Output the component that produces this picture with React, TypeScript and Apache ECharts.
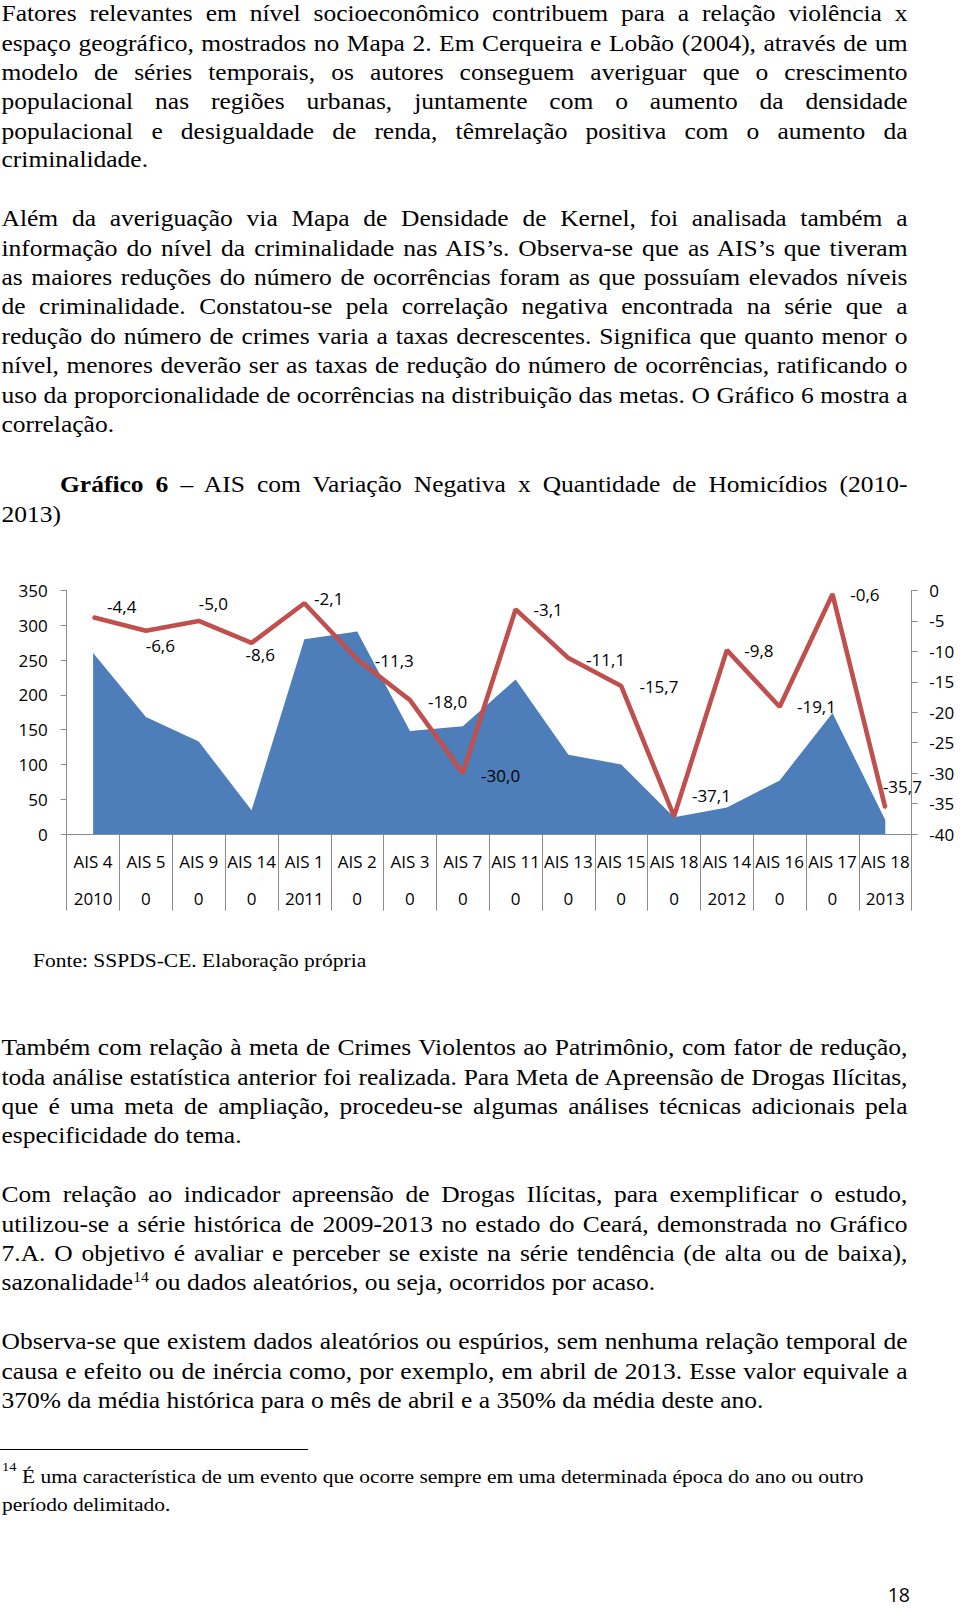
import React, { useEffect, useRef } from "react";
import * as echarts from "echarts";

// ---------- data ----------
const categories = [
  "AIS 4", "AIS 5", "AIS 9", "AIS 14", "AIS 1", "AIS 2", "AIS 3", "AIS 7",
  "AIS 11", "AIS 13", "AIS 15", "AIS 18", "AIS 14", "AIS 16", "AIS 17", "AIS 18",
];
const yearRow = ["2010", "0", "0", "0", "2011", "0", "0", "0", "0", "0", "0", "0", "2012", "0", "0", "2013"];
const homicides = [260, 168, 133, 34, 280, 291, 148, 155, 222, 114, 100, 24, 38, 77, 174, 20];
const variation = [-4.4, -6.6, -5.0, -8.6, -2.1, -11.3, -18.0, -30.0, -3.1, -11.1, -15.7, -37.1, -9.8, -19.1, -0.6, -35.7];
const leftAxis = { min: 0, max: 350, step: 50 };
const rightAxis = { min: -40, max: 0, step: 5 };

// label placement (style only): centre offset of each data label from its point
const labelOffsets = [
  [28.6, -10.6], [14.4, 15.3], [14.6, -17.6], [8.7, 12.1], [24.4, -5], [37.1, 1.4], [37.6, 1.6], [37.8, 1.9],
  [32.5, 0.6], [37.2, 1.2], [37.7, 0.6], [37.4, -21.3], [32, 0.5], [36.8, -0.1], [32.4, 0.8], [17.1, -21.8],
];

// ---------- text ----------
const p1 = [
  "Fatores relevantes em nível socioeconômico contribuem para a relação violência x",
  "espaço geográfico, mostrados no Mapa 2. Em Cerqueira e Lobão (2004), através de um",
  "modelo de séries temporais, os autores conseguem averiguar que o crescimento",
  "populacional nas regiões urbanas, juntamente com o aumento da densidade",
  "populacional e desigualdade de renda, têmrelação positiva com o aumento da",
  "criminalidade.",
];
const p2 = [
  "Além da averiguação via Mapa de Densidade de Kernel, foi analisada também a",
  "informação do nível da criminalidade nas AIS’s. Observa-se que as AIS’s que tiveram",
  "as maiores reduções do número de ocorrências foram as que possuíam elevados níveis",
  "de criminalidade. Constatou-se pela correlação negativa encontrada na série que a",
  "redução do número de crimes varia a taxas decrescentes. Significa que quanto menor o",
  "nível, menores deverão ser as taxas de redução do número de ocorrências, ratificando o",
  "uso da proporcionalidade de ocorrências na distribuição das metas. O Gráfico 6 mostra a",
  "correlação.",
];
const p3 = [
  "Também com relação à meta de Crimes Violentos ao Patrimônio, com fator de redução,",
  "toda análise estatística anterior foi realizada. Para Meta de Apreensão de Drogas Ilícitas,",
  "que é uma meta de ampliação, procedeu-se algumas análises técnicas adicionais pela",
  "especificidade do tema.",
];
const p4 = [
  "Com relação ao indicador apreensão de Drogas Ilícitas, para exemplificar o estudo,",
  "utilizou-se a série histórica de 2009-2013 no estado do Ceará, demonstrada no Gráfico",
  "7.A. O objetivo é avaliar e perceber se existe na série tendência (de alta ou de baixa),",
];
const p5 = [
  "Observa-se que existem dados aleatórios ou espúrios, sem nenhuma relação temporal de",
  "causa e efeito ou de inércia como, por exemplo, em abril de 2013. Esse valor equivale a",
  "370% da média histórica para o mês de abril e a 350% da média deste ano.",
];

const SERIF = '"Liberation Serif", "Times New Roman", serif';
const SANS = '"Open Sans", "Liberation Sans", sans-serif';
const SY = 0.92;
const BODY = 25.5;

function block(firstBaseline: number, step: number, fontSize: number, left = 1.5, width = 906): React.CSSProperties {
  const lh = step / SY;
  const b = (lh - 1.107 * fontSize) / 2 + 0.891 * fontSize;
  return {
    position: "absolute",
    top: firstBaseline - SY * b,
    left,
    width,
    fontFamily: SERIF,
    fontSize,
    lineHeight: lh + "px",
    transform: `scaleY(${SY})`,
    transformOrigin: "0 0",
    color: "#000",
    whiteSpace: "nowrap",
  };
}

const just: React.CSSProperties = { textAlign: "justify", textAlignLast: "justify" };
const last: React.CSSProperties = { textAlign: "left", textAlignLast: "left" };

function Para({ lines, style }: { lines: string[]; style: React.CSSProperties }) {
  return (
    <div style={style}>
      {lines.map((l, i) => (
        <div key={i} style={i === lines.length - 1 ? last : just}>
          {l}
        </div>
      ))}
    </div>
  );
}

function Chart() {
  const ref = useRef<HTMLDivElement>(null);
  useEffect(() => {
    if (!ref.current) return;
    const chart = echarts.init(ref.current, null, { renderer: "svg" });
    const axisColor = "#8c8c8c";
    chart.setOption({
      animation: false,
      textStyle: { fontFamily: SANS },
      grid: { left: 66.7, top: 30.5, width: 845, height: 243.5, outerBoundsMode: "none", containLabel: false },
      xAxis: {
        type: "category",
        data: categories,
        boundaryGap: true,
        axisLine: { show: true, lineStyle: { color: axisColor, width: 1 } },
        axisTick: { show: true, interval: 0, length: 76.7, lineStyle: { color: axisColor, width: 1 } },
        axisLabel: {
          interval: 0,
          margin: 9.4,
          fontSize: 17,
          lineHeight: 36.6,
          color: "#000",
          fontFamily: SANS,
          formatter: (v: string, i: number) => `${v}\n${yearRow[i]}`,
        },
        splitLine: { show: false },
      },
      yAxis: [
        {
          type: "value",
          position: "left",
          min: leftAxis.min,
          max: leftAxis.max,
          interval: leftAxis.step,
          axisLine: { show: true, lineStyle: { color: axisColor, width: 1 } },
          axisTick: { show: true, length: 6, lineStyle: { color: axisColor } },
          axisLabel: { margin: 19, fontSize: 17, color: "#000", fontFamily: SANS },
          splitLine: { show: false },
        },
        {
          type: "value",
          position: "right",
          min: rightAxis.min,
          max: rightAxis.max,
          interval: rightAxis.step,
          axisLine: { show: true, lineStyle: { color: axisColor, width: 1 } },
          axisTick: { show: true, length: 6, lineStyle: { color: axisColor } },
          axisLabel: { margin: 17.5, fontSize: 17, color: "#000", fontFamily: SANS },
          splitLine: { show: false },
        },
      ],
      series: [
        {
          name: "Homicídios",
          type: "line",
          yAxisIndex: 0,
          data: homicides,
          symbol: "none",
          lineStyle: { width: 0 },
          areaStyle: { color: "#4D7EBA", opacity: 1 },
          z: 1,
          silent: true,
        },
        {
          name: "Variação",
          type: "line",
          yAxisIndex: 1,
          data: variation.map((v, i) => ({ value: v, label: { offset: labelOffsets[i] } })),
          symbol: "circle",
          symbolSize: 2,
          itemStyle: { color: "#C0504D" },
          lineStyle: { color: "#C0504D", width: 4.6 },
          label: {
            show: true,
            position: "inside",
            fontSize: 17,
            color: "#000",
            fontFamily: SANS,
            textBorderWidth: 0,
            formatter: (p: any) => Number(p.value).toFixed(1).replace(".", ","),
          },
          z: 3,
          silent: true,
        },
      ],
    });
    return () => chart.dispose();
  }, []);
  return <div ref={ref} style={{ position: "absolute", left: 0, top: 560, width: 960, height: 370 }} />;
}

export default function App() {
  return (
    <div style={{ position: "absolute", left: 0, top: 0, width: 960, height: 1608, overflow: "hidden", background: "#fff" }}>
      <Para lines={p1} style={block(21.7, 29.32, BODY)} />
      <Para lines={p2} style={block(226.7, 29.5, BODY)} />

      <div style={block(493.3, 30, BODY)}>
        <div style={{ ...just, paddingLeft: 58.5 }}>
          <b>Gráfico 6</b> – AIS com Variação Negativa x Quantidade de Homicídios (2010-
        </div>
        <div style={last}>2013)</div>
      </div>

      <Chart />

      <div style={block(968.3, 25, 21.5, 33)}>Fonte: SSPDS-CE. Elaboração própria</div>

      <Para lines={p3} style={block(1055.3, 29.3, BODY)} />
      <div style={block(1203, 29.3, BODY)}>
        {p4.map((l, i) => (
          <div key={i} style={just}>{l}</div>
        ))}
        <div style={last}>
          sazonalidade<span style={{ fontSize: 15.5, position: "relative", top: -8.5 }}>14</span> ou dados aleatórios, ou seja, ocorridos por acaso.
        </div>
      </div>
      <Para lines={p5} style={block(1349.8, 29.3, BODY)} />

      <div style={{ position: "absolute", left: 0, top: 1448.5, width: 308, height: 1.5, background: "#000" }} />
      <div style={block(1485, 25.7, 21.5, 2, 900)}>
        <div>
          <span style={{ fontSize: 14.5, position: "relative", top: -12.9 }}>14</span> É uma característica de um evento que ocorre sempre em uma determinada época do ano ou outro
        </div>
        <div>período delimitado.</div>
      </div>

      <div
        style={{
          position: "absolute",
          right: 50,
          top: 1585.5,
          fontFamily: SANS,
          fontSize: 19.5,
          lineHeight: "17px",
          color: "#000",
        }}
      >
        18
      </div>
    </div>
  );
}
